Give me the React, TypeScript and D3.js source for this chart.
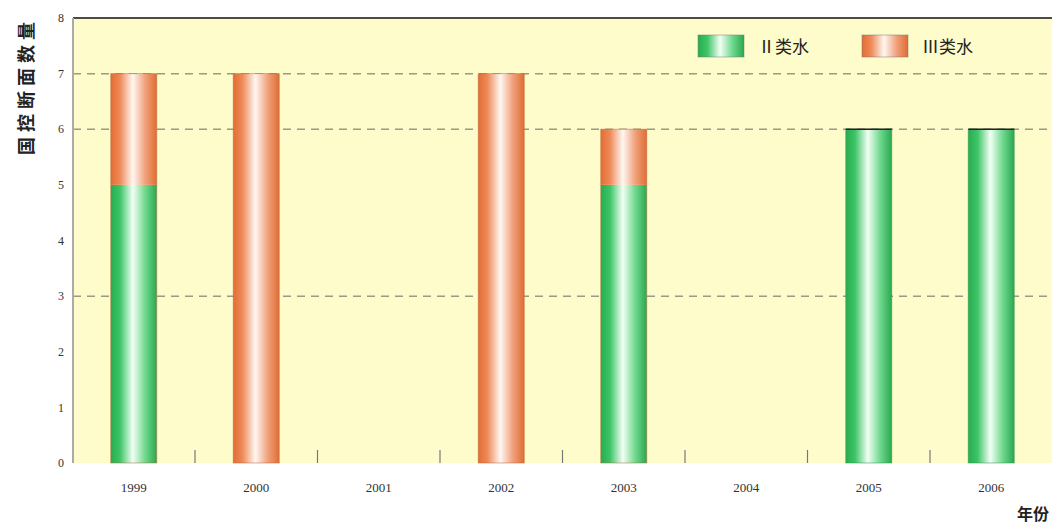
import React from "react";
import * as d3 from "d3";

// Monitoring sections by water-quality class, per year
const years = ["1999", "2000", "2001", "2002", "2003", "2004", "2005", "2006"];
const classII = [5, 0, 0, 0, 5, 0, 6, 6];
const classIII = [2, 7, 0, 7, 1, 0, 0, 0];
const seriesNames = ["Ⅱ类水", "Ⅲ类水"];
const yTicks = [0, 1, 2, 3, 4, 5, 6, 7, 8];
const gridValues = [3, 6, 7];

const W = 1052;
const H = 525;
const M = { left: 73, top: 18, bottom: 62 };

export default function App() {
  const x = d3
    .scaleBand<string>()
    .domain(years)
    .range([72.5, 1052.5])
    .paddingInner(0)
    .paddingOuter(0);
  const y = d3.scaleLinear().domain([0, 8]).range([H - M.bottom, M.top]);
  const barW = 46;

  const stacks = years.map((yr, i) => ({
    yr,
    segs: [
      { key: "g", y0: 0, y1: classII[i] },
      { key: "o", y0: classII[i], y1: classII[i] + classIII[i] },
    ],
  }));

  const font = "'Liberation Serif', 'DejaVu Serif', serif";
  const cjk = "'Noto Sans CJK SC', sans-serif";

  return (
    <svg
      width={W}
      height={H}
      style={{ position: "absolute", left: 0, top: 0, background: "#fff" }}
    >
      <defs>
        <linearGradient id="gradG" x1="0" x2="1" y1="0" y2="0">
          <stop offset="0" stopColor="#27ad4f" />
          <stop offset="0.2" stopColor="#3cc466" />
          <stop offset="0.48" stopColor="#f2fff4" />
          <stop offset="0.75" stopColor="#6fd88d" />
          <stop offset="1" stopColor="#2aa850" />
        </linearGradient>
        <linearGradient id="gradO" x1="0" x2="1" y1="0" y2="0">
          <stop offset="0" stopColor="#e36d35" />
          <stop offset="0.2" stopColor="#ee8a58" />
          <stop offset="0.48" stopColor="#fff7f2" />
          <stop offset="0.75" stopColor="#f0a17c" />
          <stop offset="1" stopColor="#e06c33" />
        </linearGradient>
      </defs>

      {/* plot background */}
      <rect
        x={M.left}
        y={M.top}
        width={W - M.left}
        height={y(0) - M.top}
        fill="#fefccb"
      />

      {/* dashed grid */}
      {gridValues.map((v) => (
        <line
          key={v}
          x1={M.left}
          x2={W}
          y1={y(v)}
          y2={y(v)}
          stroke="#9a9a88"
          strokeWidth={1.5}
          strokeDasharray="8,6"
        />
      ))}

      {/* top border */}
      <line x1={M.left} x2={W} y1={M.top} y2={M.top} stroke="#111" strokeWidth={1.5} />
      {/* left axis */}
      <line x1={M.left} x2={M.left} y1={M.top} y2={y(0)} stroke="#aaa" strokeWidth={2} />

      {/* category separators */}
      {years.slice(1).map((yr) => (
        <line
          key={yr}
          x1={x(yr)!}
          x2={x(yr)!}
          y1={y(0) - 13}
          y2={y(0)}
          stroke="#777"
          strokeWidth={1.2}
        />
      ))}

      {/* bars */}
      {stacks.map((s) => {
        const cx = x(s.yr)! + x.bandwidth() / 2;
        const total = s.segs[1].y1;
        if (total === 0) return null;
        return (
          <g key={s.yr}>
            {s.segs.map((seg) =>
              seg.y1 > seg.y0 ? (
                <rect
                  key={seg.key}
                  x={cx - barW / 2}
                  y={y(seg.y1)}
                  width={barW}
                  height={y(seg.y0) - y(seg.y1)}
                  fill={seg.key === "g" ? "url(#gradG)" : "url(#gradO)"}
                />
              ) : null
            )}
            <rect
              x={cx - barW / 2}
              y={y(total)}
              width={barW}
              height={y(0) - y(total)}
              fill="none"
              stroke={s.segs[1].y1 > s.segs[1].y0 ? "#b8663a" : "#2f8f4a"}
              strokeOpacity={0.5}
              strokeWidth={1}
            />
            {s.segs[1].y1 === s.segs[1].y0 && (
              <line
                x1={cx - barW / 2}
                x2={cx + barW / 2}
                y1={y(total)}
                y2={y(total)}
                stroke="#222"
                strokeWidth={1.5}
              />
            )}
          </g>
        );
      })}

      {/* y tick labels */}
      {yTicks.map((t) => (
        <text
          key={t}
          x={64}
          y={y(t)}
          dy="0.35em"
          textAnchor="end"
          fontFamily={font}
          fontSize={12}
          fill="#333"
        >
          {t}
        </text>
      ))}

      {/* x tick labels */}
      {years.map((yr) => (
        <text
          key={yr}
          x={x(yr)! + x.bandwidth() / 2}
          y={492}
          textAnchor="middle"
          fontFamily={font}
          fontSize={13}
          fill="#333"
        >
          {yr}
        </text>
      ))}

      {/* axis titles */}
      <text
        transform="translate(33,86) rotate(-90)"
        textAnchor="middle"
        fontFamily={cjk}
        fontWeight="bold"
        fontSize={18}
        letterSpacing={5}
        fill="#222"
      >
        国控断面数量
      </text>
      <text
        x={1049}
        y={520}
        textAnchor="end"
        fontFamily={cjk}
        fontWeight="bold"
        fontSize={16}
        fill="#222"
      >
        年份
      </text>

      {/* legend */}
      {seriesNames.map((name, i) => {
        const lx = 698 + i * 164;
        return (
          <g key={name}>
            <rect
              x={lx}
              y={35}
              width={46}
              height={22}
              fill={i === 0 ? "url(#gradG)" : "url(#gradO)"}
              stroke="#777"
              strokeOpacity={0.5}
            />
            <text
              x={lx + 60}
              y={53}
              fontFamily={cjk}
              fontSize={17}
              fill="#222"
            >
              {name}
            </text>
          </g>
        );
      })}
    </svg>
  );
}
